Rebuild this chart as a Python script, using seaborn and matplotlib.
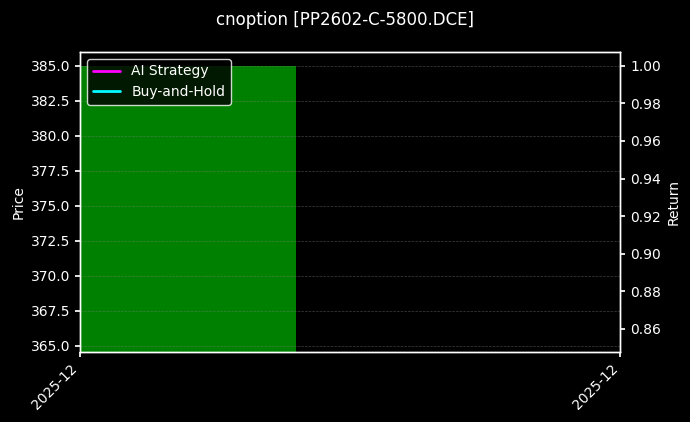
import pandas as pd
import numpy as np
import matplotlib
matplotlib.use("Agg")
import matplotlib.pyplot as plt
import matplotlib.dates as mdates
import seaborn as sns

# data
dates = pd.to_datetime(["2025-12-30", "2025-12-31"])
price = [385.0, np.nan]
ai_return = [1.0, np.nan]
bh_return = [1.0, np.nan]
price_ylim = (364.57, 386.0)
return_ylim = (0.8477, 1.0074)
return_ticks = [0.86, 0.88, 0.90, 0.92, 0.94, 0.96, 0.98, 1.00]

sns.set_theme(style="dark", rc={
    "figure.facecolor": "black",
    "axes.facecolor": "black",
    "axes.edgecolor": "white",
    "axes.labelcolor": "white",
    "text.color": "white",
    "xtick.color": "white",
    "ytick.color": "white",
    "xtick.bottom": True,
    "ytick.left": True,
    "xtick.major.size": 3.5,
    "ytick.major.size": 3.5,
    "xtick.major.pad": 3.5,
    "ytick.major.pad": 3.5,
    "axes.linewidth": 1.0,
})
plt.rcParams["font.family"] = ["DejaVu Sans"]

df = pd.DataFrame({"date": dates, "price": price,
                   "ai": ai_return, "bh": bh_return})

fig = plt.figure(figsize=(6.9, 4.22), dpi=100)
ax = fig.add_axes([0.116, 0.166, 0.783, 0.711])

ax.bar(df["date"], df["price"], width=0.8, color="green",
       edgecolor="none", linewidth=0, zorder=1)
ax.set_ylim(*price_ylim)
ax.set_xlim(dates[0], dates[-1])
ax.set_xticks(dates)
ax.xaxis.set_major_formatter(mdates.DateFormatter("%Y-%m"))
plt.setp(ax.get_xticklabels(), rotation=45, ha="right", fontsize=10)
ax.tick_params(axis="y", labelsize=10)
ax.set_ylabel("Price", fontsize=10)
ax.grid(True, axis="y", color="gray", linestyle="--", linewidth=0.5, alpha=0.5)
ax.set_axisbelow(False)

ax2 = ax.twinx()
sns.lineplot(data=df, x="date", y="ai", ax=ax2, color="magenta", linewidth=2,
             label="AI Strategy", legend=False)
sns.lineplot(data=df, x="date", y="bh", ax=ax2, color="cyan", linewidth=2,
             label="Buy-and-Hold", legend=False)
ax2.set_ylim(*return_ylim)
ax2.set_yticks(return_ticks)
ax2.set_yticklabels([f"{t:.2f}" for t in return_ticks])
ax2.tick_params(axis="y", labelsize=10, right=True)
ax2.set_ylabel("Return", fontsize=10)
ax2.set_xlabel("")
ax2.grid(False)
for s in ax2.spines.values():
    s.set_color("white")

leg = ax2.legend(loc="upper left", fontsize=10, facecolor="black",
                 edgecolor="white", framealpha=0.8)
for t in leg.get_texts():
    t.set_color("white")

fig.suptitle("cnoption [PP2602-C-5800.DCE]", fontsize=12, y=0.975)
fig.savefig("out.png", dpi=100, facecolor="black")
